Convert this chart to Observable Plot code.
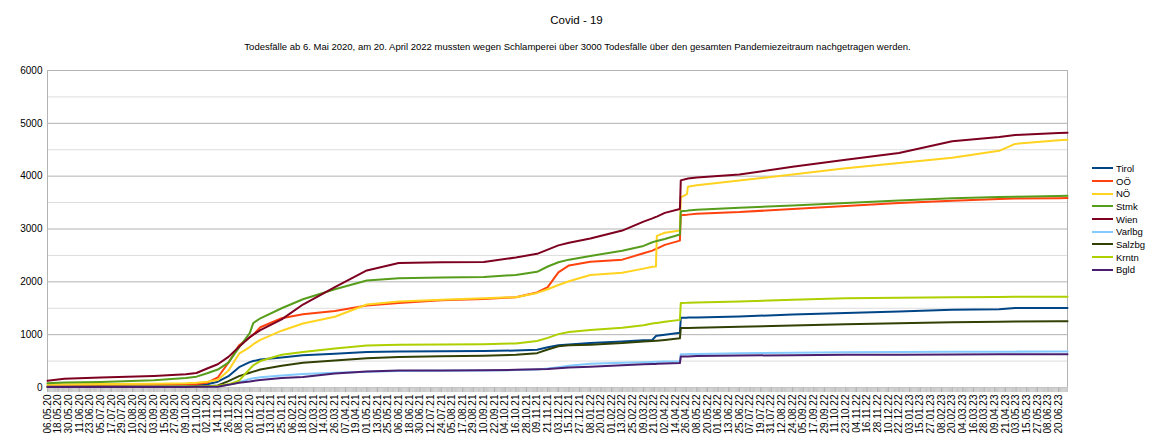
<!DOCTYPE html>
<html><head><meta charset="utf-8">
<script src="https://cdn.jsdelivr.net/npm/d3@7"></script>
<script src="https://cdn.jsdelivr.net/npm/@observablehq/plot@0.6"></script>
<style>
body{margin:0;background:#fff;font-family:"Liberation Sans",Arial,sans-serif;color:#000;}
#wrap{position:relative;width:1149px;height:435px;}
#title{position:absolute;top:14px;left:2px;width:1149px;text-align:center;font-size:11.5px;}
#subtitle{position:absolute;top:41px;left:3px;width:1149px;text-align:center;font-size:9.5px;}
#legend{position:absolute;left:1092px;top:162px;font-size:9.5px;}
.item{display:flex;align-items:center;height:12.7px;}
.sw{width:21px;height:2px;margin-right:3px;}
#chart{position:absolute;left:0;top:0;}
</style></head>
<body>
<div id="wrap">
<div id="chart"></div>
<div id="title">Covid - 19</div>
<div id="subtitle">Todesfälle ab 6. Mai 2020, am 20. April 2022 mussten wegen Schlamperei über 3000 Todesfälle über den gesamten Pandemiezeitraum nachgetragen werden.</div>
<div id="legend"></div>
</div>
<script>
const dates = ["2020-05-06","2020-05-25","2020-07-05","2020-09-03","2020-10-09","2020-10-21","2020-11-02","2020-11-14","2020-11-26","2020-12-08",
"2020-12-20","2020-12-24","2021-01-01","2021-01-25","2021-02-18","2021-03-26","2021-05-01","2021-06-06","2021-07-24","2021-09-10",
"2021-10-16","2021-11-09","2021-11-21","2021-12-03","2021-12-15","2022-01-08","2022-02-13","2022-03-09","2022-03-19","2022-03-23",
"2022-03-24","2022-04-02","2022-04-19","2022-04-20","2022-04-27","2022-04-28","2022-05-08","2022-06-25","2022-08-24","2022-10-23",
"2022-12-22","2023-02-20","2023-04-14","2023-05-02","2023-06-20","2023-06-30"];

const Tirol = [20,22,25,30,38,45,60,110,215,385, 480,500,530,570,610,640,670,680,685,690, 700,715,760,800,815,840,870,895,900,975, 978,1000,1035,1320,1322,1323,1325,1345,1380,1410, 1440,1470,1480,1505,1505,1505];
const OOe = [30,32,38,45,55,65,90,190,470,800, 950,1000,1140,1310,1385,1450,1552,1600,1650,1675, 1709,1800,1900,2180,2310,2380,2420,2540,2590,2625, 2630,2700,2780,3260,3270,3272,3290,3320,3380,3435, 3490,3535,3570,3575,3584,3585];
const NOe = [57,60,65,72,82,90,110,140,320,640, 765,820,900,1075,1210,1340,1570,1630,1660,1690, 1710,1790,1860,1940,2010,2130,2170,2250,2285,2290, 2870,2930,2970,3600,3660,3800,3830,3920,4030,4150, 4250,4350,4480,4610,4680,4690];
const Stmk = [80,95,105,135,180,205,270,340,470,760, 1030,1220,1310,1500,1670,1860,2025,2070,2080,2090, 2130,2190,2290,2370,2420,2490,2590,2680,2750,2770, 2772,2810,2896,3335,3345,3348,3365,3400,3445,3490, 3540,3580,3605,3612,3625,3628];
const Wien = [130,165,190,220,250,275,360,440,580,770, 950,1000,1085,1290,1570,1900,2215,2355,2370,2375, 2460,2530,2610,2690,2740,2820,2970,3140,3200,3230, 3235,3305,3380,3920,3950,3955,3975,4030,4180,4310, 4440,4660,4740,4780,4815,4820];
const Varlbg = [15,15,16,17,18,19,20,25,50,100, 160,175,195,225,255,280,300,310,315,320, 330,340,360,385,410,450,470,480,484,486, 486,490,498,630,631,632,635,650,660,668, 672,676,678,679,680,680];
const Salzbg = [10,10,12,14,16,18,22,40,120,215, 280,300,340,410,470,510,555,575,590,600, 620,650,720,780,800,810,840,870,880,885, 886,900,930,1125,1127,1128,1130,1150,1175,1195, 1215,1235,1245,1248,1255,1255];
const Krntn = [12,12,14,16,18,20,25,35,60,130, 350,420,500,620,670,740,795,810,815,820, 835,880,940,1010,1050,1090,1130,1180,1210,1220, 1222,1245,1280,1600,1603,1605,1610,1630,1660,1690, 1700,1710,1715,1717,1720,1720];
const Bgld = [8,8,9,10,11,12,13,15,50,90, 115,125,140,180,200,265,305,320,322,325, 335,345,350,365,380,395,420,440,445,447, 448,455,462,585,587,588,595,605,612,618, 622,626,628,629,630,630];

const seriesNames = ["Tirol","OÖ","NÖ","Stmk","Wien","Varlbg","Salzbg","Krntn","Bgld"];
const seriesValues = [Tirol,OOe,NOe,Stmk,Wien,Varlbg,Salzbg,Krntn,Bgld];
const seriesColors = ["#004586","#ff420e","#ffd320","#579d1c","#7e0021","#83caff","#314004","#aecf00","#4b1f6f"];

const yTicks = [0,1000,2000,3000,4000,5000,6000];
const yMinor = [500,1500,2500,3500,4500,5500];
const xStart = "2020-05-06";
const xEnd = "2023-06-30";
const xTickStepDays = 12;
const xTickCount = 96;

const parse = d3.utcParse("%Y-%m-%d");
const data = seriesNames.flatMap((name, i) =>
  dates.map((d, j) => ({series: name, date: parse(d), value: seriesValues[i][j]})));

const start = parse(xStart), end = parse(xEnd);
const xTicks = d3.range(xTickCount).map(i => d3.utcDay.offset(start, i * xTickStepDays));
const allDays = d3.utcDay.range(start, d3.utcDay.offset(end, 1));
const fmt = d3.utcFormat("%d.%m.%y");

const chart = Plot.plot({
  width: 1149, height: 435,
  marginLeft: 47, marginRight: 82, marginTop: 70, marginBottom: 48,
  style: {fontFamily: "Liberation Sans, Arial, sans-serif", fontSize: "10px", color: "#000", background: "#fff"},
  x: {type: "utc", domain: [start, end]},
  y: {domain: [0, 6000]},
  color: {domain: seriesNames, range: seriesColors},
  marks: [
    Plot.ruleY(yMinor, {stroke: "#dddddd"}),
    Plot.ruleY(yTicks, {stroke: "#b3b3b3"}),
    Plot.ruleX([start, end], {stroke: "#b3b3b3"}),
    Plot.axisY({ticks: yTicks, tickSize: 0, tickPadding: 5, label: null, tickFormat: d => String(d)}),
    Plot.axisX({ticks: allDays, tickSize: 5, tickFormat: () => "", label: null, stroke: "#c8c8c8"}),
    Plot.axisX({ticks: xTicks, tickSize: 5, tickPadding: 2, tickRotate: -90, tickFormat: fmt, label: null, stroke: "#b3b3b3"}),
    Plot.lineY(data, {x: "date", y: "value", z: "series", stroke: "series", strokeWidth: 2})
  ]
});
document.getElementById("chart").append(chart);

const legend = document.getElementById("legend");
seriesNames.forEach((n, i) => {
  const it = document.createElement("div"); it.className = "item";
  const sw = document.createElement("span"); sw.className = "sw"; sw.style.background = seriesColors[i];
  const t = document.createElement("span"); t.textContent = n;
  it.append(sw, t); legend.append(it);
});
</script>
</body></html>
